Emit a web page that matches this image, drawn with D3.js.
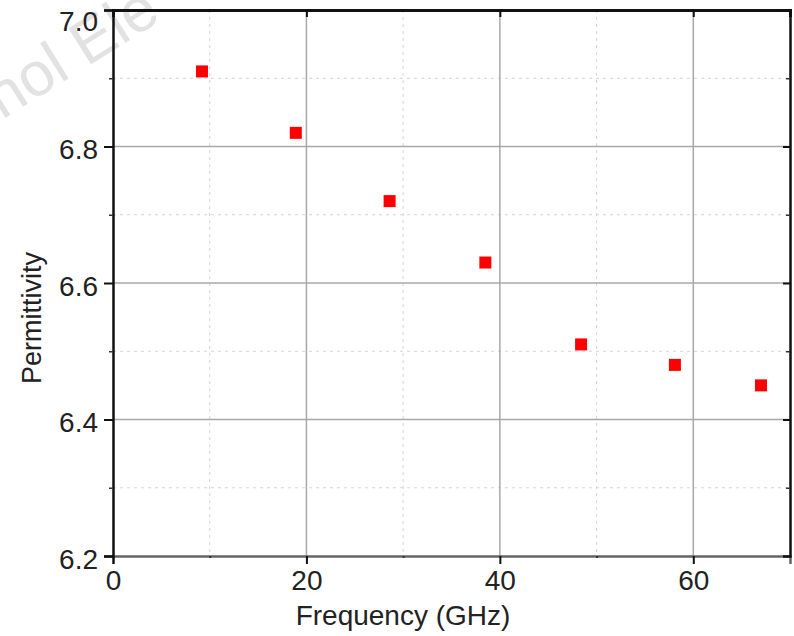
<!DOCTYPE html>
<html>
<head>
<meta charset="utf-8">
<script src="https://cdn.jsdelivr.net/npm/d3@7"></script>
<style>
  body { margin: 0; background: #fff; }
  text { font-family: "Liberation Sans", Arial, sans-serif; fill: #222; }
</style>
</head>
<body>
<div id="chart"></div>
<script>
// Data
const frequency = [9.2, 18.9, 28.6, 38.5, 48.4, 58.1, 67.0];
const permittivity = [6.91, 6.82, 6.72, 6.63, 6.51, 6.48, 6.45];
const xMajor = [0, 20, 40, 60];
const xMinor = [10, 30, 50];
const yMajor = [6.2, 6.4, 6.6, 6.8, 7.0];
const yMinor = [6.3, 6.5, 6.7, 6.9];

const width = 794;
const height = 636;
const plotL = 113, plotR = 790, plotT = 10, plotB = 556;

const svg = d3.select("#chart")
    .append("svg")
    .attr("width", width)
    .attr("height", height);

const x = d3.scaleLinear().domain([0, 70]).range([plotL, plotR]);
const y = d3.scaleLinear().domain([6.2, 7.0]).range([plotB, plotT]);

// watermark
svg.append("text")
    .attr("transform", "translate(2,120) rotate(-32)")
    .attr("font-size", 62)
    .style("fill", "#e2e2e2")
    .text("nol Ele");

// Minor grid (dashed)
svg.append("g").selectAll("line")
    .data(xMinor)
    .join("line")
    .attr("x1", d => x(d)).attr("x2", d => x(d))
    .attr("y1", plotT).attr("y2", plotB)
    .attr("stroke", "#d4d4d4").attr("stroke-dasharray", "3,4");
svg.append("g").selectAll("line")
    .data(yMinor)
    .join("line")
    .attr("x1", plotL).attr("x2", plotR)
    .attr("y1", d => y(d)).attr("y2", d => y(d))
    .attr("stroke", "#d4d4d4").attr("stroke-dasharray", "3,4");

// Major grid
svg.append("g").selectAll("line")
    .data(xMajor.slice(1))
    .join("line")
    .attr("x1", d => x(d)).attr("x2", d => x(d))
    .attr("y1", plotT).attr("y2", plotB)
    .attr("stroke", "#a8a8a8").attr("stroke-width", 1.5);
svg.append("g").selectAll("line")
    .data(yMajor.slice(1, -1))
    .join("line")
    .attr("x1", plotL).attr("x2", plotR)
    .attr("y1", d => y(d)).attr("y2", d => y(d))
    .attr("stroke", "#a8a8a8").attr("stroke-width", 1.5);

// Axes
const xAxis = svg.append("g")
    .attr("transform", `translate(0,${plotB})`)
    .call(d3.axisBottom(x).tickValues(xMajor).tickSize(8).tickPadding(6).tickFormat(d3.format("d")));
xAxis.select(".domain").attr("stroke", "#666").attr("stroke-width", 2.5);
xAxis.selectAll(".tick line").attr("stroke", "#111").attr("stroke-width", 2);
xAxis.selectAll(".tick text").attr("font-size", 28).style("fill", "#222");

svg.append("g")
    .attr("transform", `translate(0,${plotB})`)
    .call(d3.axisBottom(x).tickValues(xMinor).tickSize(2).tickFormat(""))
    .call(g => g.select(".domain").remove())
    .selectAll(".tick line").attr("stroke", "#333").attr("stroke-width", 2);

const yAxis = svg.append("g")
    .attr("transform", `translate(${plotL},0)`)
    .call(d3.axisLeft(y).tickValues(yMajor).tickSize(9).tickPadding(6).tickFormat(d3.format(".1f")));
yAxis.select(".domain").attr("stroke", "#111").attr("stroke-width", 2.5);
yAxis.selectAll(".tick line").attr("stroke", "#111").attr("stroke-width", 2);
yAxis.selectAll(".tick text")
    .attr("font-size", 28)
    .attr("dy", d => d === 7.0 ? "0.72em" : "0.43em")
    .style("fill", "#222");

svg.append("g")
    .attr("transform", `translate(${plotL},0)`)
    .call(d3.axisLeft(y).tickValues(yMinor).tickSize(4).tickFormat(""))
    .call(g => g.select(".domain").remove())
    .selectAll(".tick line").attr("stroke", "#333").attr("stroke-width", 1.5);

// Top and right borders with inward ticks
const topAxis = svg.append("g")
    .attr("transform", `translate(0,${plotT})`)
    .call(d3.axisTop(x).tickValues(xMajor.slice(1)).tickSize(-7).tickFormat(""));
topAxis.select(".domain").attr("stroke", "#111").attr("stroke-width", 3);
topAxis.selectAll(".tick line").attr("stroke", "#111").attr("stroke-width", 2);

const rightAxis = svg.append("g")
    .attr("transform", `translate(${plotR},0)`)
    .call(d3.axisRight(y).tickValues(yMajor.slice(1, -1)).tickSize(-7).tickFormat(""));
rightAxis.select(".domain").attr("stroke", "#111").attr("stroke-width", 2.5);
rightAxis.selectAll(".tick line").attr("stroke", "#111").attr("stroke-width", 2);

svg.append("g")
    .attr("transform", `translate(${plotR},0)`)
    .call(d3.axisRight(y).tickValues(yMinor).tickSize(-4).tickFormat(""))
    .call(g => g.select(".domain").remove())
    .selectAll(".tick line").attr("stroke", "#333").attr("stroke-width", 1.5);

// Points
const pts = frequency.map((f, i) => ({ f: f, p: permittivity[i] }));
svg.append("g").selectAll("rect")
    .data(pts)
    .join("rect")
    .attr("x", d => x(d.f) - 6)
    .attr("y", d => y(d.p) - 6)
    .attr("width", 12)
    .attr("height", 12)
    .attr("fill", "#ff0000");

// Axis labels
svg.append("text")
    .attr("x", 403)
    .attr("y", 625)
    .attr("text-anchor", "middle")
    .attr("font-size", 28)
    .text("Frequency (GHz)");

svg.append("text")
    .attr("transform", "translate(41,318) rotate(-90)")
    .attr("text-anchor", "middle")
    .attr("font-size", 27)
    .text("Permittivity");
</script>
</body>
</html>
